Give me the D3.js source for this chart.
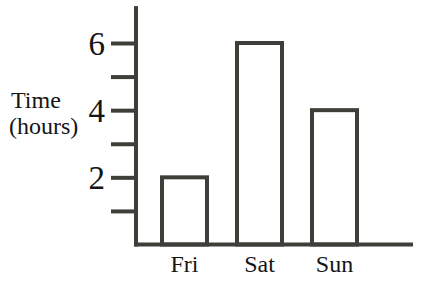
<!DOCTYPE html>
<html>
<head>
<meta charset="utf-8">
<script src="https://cdn.jsdelivr.net/npm/d3@7"></script>
<style>
  html, body { margin: 0; padding: 0; background: #fff; }
  svg { display: block; }
</style>
</head>
<body>
<svg id="chart" width="431" height="305"></svg>
<script>
const categories = ["Fri", "Sat", "Sun"];
const values = [2, 6, 4];
const yTicks = [1, 2, 3, 4, 5, 6];
const yTickLabels = ["", "2", "", "4", "", "6"];
const yTitle = ["Time", "(hours)"];

const lineColor = "#3f3e39";
const textColor = "#151515";
const font = "'Liberation Serif', 'Times New Roman', serif";

const svg = d3.select("#chart");

const y = d3.scaleLinear().domain([0, 6]).range([244.5, 43]);
const x = d3.scaleBand().domain(categories).range([147, 372])
  .paddingInner(0.4).paddingOuter(0.2);

const axisX = 136;
const baseY = y(0);

// bars
svg.append("g").selectAll("rect").data(values).join("rect")
  .attr("x", (d, i) => x(categories[i]))
  .attr("y", d => y(d))
  .attr("width", x.bandwidth())
  .attr("height", d => baseY - y(d))
  .attr("fill", "none")
  .attr("stroke", lineColor)
  .attr("stroke-width", 4);

// y axis
const yAxis = d3.axisLeft(y)
  .tickValues(yTicks)
  .tickSize(25)
  .tickPadding(6)
  .tickFormat((d, i) => yTickLabels[i]);
const gy = svg.append("g").attr("transform", `translate(${axisX},0)`).call(yAxis);
gy.select(".domain").remove();
gy.selectAll(".tick line").attr("stroke", lineColor).attr("stroke-width", 4);
gy.selectAll(".tick text")
  .attr("fill", textColor)
  .attr("font-family", font)
  .attr("font-size", 33)
  .attr("dy", "0.34em");

// vertical axis line
svg.append("line")
  .attr("x1", axisX).attr("x2", axisX)
  .attr("y1", y(7.1)).attr("y2", baseY + 2)
  .attr("stroke", lineColor).attr("stroke-width", 4);

// horizontal axis line
svg.append("line")
  .attr("x1", axisX - 2).attr("x2", 413)
  .attr("y1", baseY).attr("y2", baseY)
  .attr("stroke", lineColor).attr("stroke-width", 4);

// x labels
const xAxis = d3.axisBottom(x).tickSize(0).tickPadding(0);
const gx = svg.append("g").attr("transform", `translate(0,${baseY})`).call(xAxis);
gx.select(".domain").remove();
gx.selectAll(".tick text")
  .attr("fill", textColor)
  .attr("font-family", font)
  .attr("font-size", 24)
  .attr("y", 27.5)
  .attr("dy", 0);

// y title
svg.append("text")
  .attr("font-family", font)
  .attr("font-size", 24)
  .attr("fill", textColor)
  .selectAll("tspan").data(yTitle).join("tspan")
  .attr("x", (d, i) => i === 0 ? 11 : 9)
  .attr("y", (d, i) => 108 + i * 26)
  .text(d => d);
</script>
</body>
</html>
